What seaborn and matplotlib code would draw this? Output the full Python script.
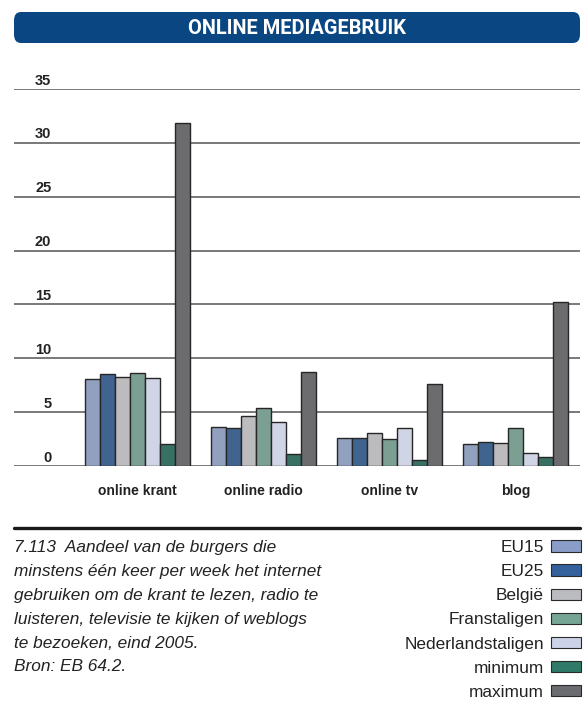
import pandas as pd
import matplotlib
matplotlib.use("Agg")
import matplotlib.pyplot as plt
from matplotlib.patches import FancyBboxPatch, Patch
from matplotlib.lines import Line2D
import matplotlib.transforms as mtransforms
import seaborn as sns

# === data ===
categories = ["online krant", "online radio", "online tv", "blog"]
groups = ["EU15", "EU25", "België", "Franstaligen", "Nederlandstaligen", "minimum", "maximum"]
eu15 = [8.1, 3.65, 2.6, 2.05]
eu25 = [8.5, 3.55, 2.6, 2.25]
belgie = [8.3, 4.6, 3.1, 2.15]
franstaligen = [8.6, 5.35, 2.55, 3.5]
nederlandstaligen = [8.2, 4.05, 3.55, 1.2]
minimum = [2.0, 1.15, 0.6, 0.8]
maximum = [31.8, 8.7, 7.6, 15.2]
yticks = [0, 5, 10, 15, 20, 25, 30, 35]

colors = ["#8a9dc8", "#34619c", "#bbbcc0", "#76a596", "#ccd3e8", "#2f7a68", "#6b6c70"]

caption = ("7.113  Aandeel van de burgers die\n"
           "minstens één keer per week het internet\n"
           "gebruiken om de krant te lezen, radio te\n"
           "luisteren, televisie te kijken of weblogs\n"
           "te bezoeken, eind 2005.\n"
           "Bron: EB 64.2.")

series = [eu15, eu25, belgie, franstaligen, nederlandstaligen, minimum, maximum]
rows = []
for g, vals in zip(groups, series):
    for c, v in zip(categories, vals):
        rows.append({"categorie": c, "groep": g, "waarde": v})
df = pd.DataFrame(rows)

sns.set_style("white")
narrow = ["Roboto", "DejaVu Sans"]
plain = ["Liberation Sans", "DejaVu Sans"]

fig = plt.figure(figsize=(5.84, 7.09), dpi=100)
W, H = 584, 709
ax = fig.add_axes([14 / W, 1 - 466 / H, 566 / W, (466 - 89) / H])

sns.barplot(data=df, x="categorie", y="waarde", hue="groep", order=categories,
            hue_order=groups, palette=dict(zip(groups, colors)), width=0.83,
            edgecolor="#262626", linewidth=1.0, legend=False, ax=ax, zorder=3)

ax.set_xlim(-0.98, 3.51)
ax.set_ylim(0, 35)
ax.set_yticks(yticks)
ax.set_yticklabels([])
ax.tick_params(axis="y", length=0)
ax.tick_params(axis="x", length=0, pad=13)
for lbl in ax.get_xticklabels():
    lbl.set_fontfamily(plain)
    lbl.set_fontweight("bold")
    lbl.set_fontsize(10)
    lbl.set_color("#222222")
ax.set_xlabel("")
ax.set_ylabel("")
for s in ax.spines.values():
    s.set_visible(False)
ax.grid(False)
for t in yticks:
    ax.axhline(t, color="#626262", linewidth=1.2, zorder=1)

# y labels sit above the gridlines, at the left
trans = mtransforms.blended_transform_factory(ax.transAxes, ax.transData)
off = mtransforms.offset_copy(trans, fig=fig, x=0, y=3.2, units="points")
for t in yticks:
    ax.text(0.066, t, str(t), transform=off, ha="right", va="baseline",
            fontsize=10.5, fontweight="bold", family=plain, color="#222222")

# title banner
banner = FancyBboxPatch((14 / W, 1 - 43 / H), 566 / W, 31 / H,
                        boxstyle="round,pad=0,rounding_size=0.012",
                        transform=fig.transFigure, facecolor="#0a4682",
                        edgecolor="none")
fig.patches.append(banner)
fig.text(297 / W, 1 - 28 / H, "ONLINE MEDIAGEBRUIK", ha="center", va="center",
         color="white", fontsize=14.4, fontweight="bold", family=narrow)

# rule above caption
fig.add_artist(Line2D([14 / W, 580 / W], [1 - 528 / H] * 2, transform=fig.transFigure,
                      color="#1a1a1a", linewidth=2.4))

fig.text(14 / W, 1 - 540 / H, caption, ha="left", va="top", fontsize=12.4,
         style="italic", family=plain, color="#222222", linespacing=1.74)

handles = [Patch(facecolor=c, edgecolor="#2a2a2a", linewidth=0.8) for c in colors]
leg = fig.legend(handles, groups, loc="upper right", bbox_to_anchor=(581 / W, 1 - 540 / H),
                 frameon=False, markerfirst=False, handlelength=1.75, handleheight=0.62,
                 handletextpad=0.4, labelspacing=0.53, borderaxespad=0, borderpad=0,
                 prop={"family": plain, "size": 12.4})
for txt in leg.get_texts():
    txt.set_color("#222222")

fig.savefig("out.png", dpi=100)
